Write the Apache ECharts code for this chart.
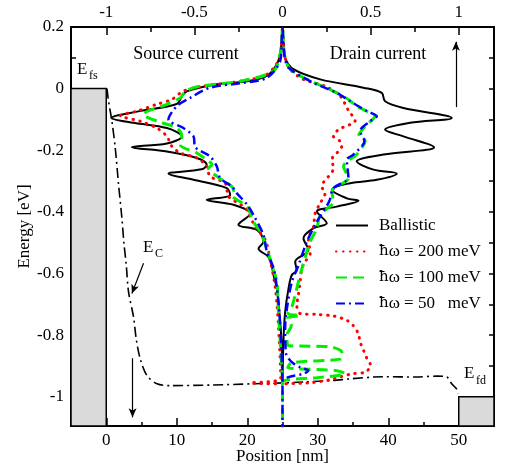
<!DOCTYPE html>
<html>
<head>
<meta charset="utf-8">
<script src="https://cdn.jsdelivr.net/npm/echarts@6/dist/echarts.min.js"></script>
<style>
  html, body { margin: 0; padding: 0; background: #fff; }
  #chart { width: 509px; height: 466px; }
</style>
</head>
<body>
<div id="chart"></div>
<script>
// axis ticks / labels
const positionLabels = [0, 10, 20, 30, 40, 50]
const positionMinor = [5, 15, 25, 35, 45]
const currentLabels = [-1, -0.5, 0, 0.5, 1]
const currentMinor = [-0.75, -0.25, 0.25, 0.75]
const energyLabels = [0.2, 0, -0.2, -0.4, -0.6, -0.8, -1]
const energyTicks = [0.1, 0, -0.1, -0.2, -0.3, -0.4, -0.5, -0.6, -0.7, -0.8, -0.9, -1]

// current density vs energy, [current, energy], top to bottom
const ballisticSource = [[0, 0.2], [-0.005, 0.15], [-0.015, 0.11], [-0.032, 0.079], [-0.089, 0.041], [-0.2, 0.024], [-0.37, 0.014], [-0.54, -0.008], [-0.57, -0.024], [-0.6, -0.05], [-0.81, -0.073], [-0.97, -0.095], [-0.845, -0.111], [-0.656, -0.128], [-0.571, -0.155], [-0.656, -0.178], [-0.854, -0.19], [-0.656, -0.204], [-0.486, -0.225], [-0.43, -0.247], [-0.46, -0.262], [-0.647, -0.276], [-0.505, -0.296], [-0.316, -0.323], [-0.297, -0.345], [-0.43, -0.361], [-0.278, -0.377], [-0.183, -0.405], [-0.25, -0.442], [-0.145, -0.459], [-0.108, -0.497], [-0.136, -0.519], [-0.08, -0.546], [-0.06, -0.578], [-0.051, -0.605], [-0.032, -0.649], [-0.013, -0.757], [-0.004, -0.844], [0, -0.95]]
const ballisticDrain = [[0, 0.2], [0.005, 0.15], [0.015, 0.1], [0.062, 0.063], [0.214, 0.03], [0.459, 0.003], [0.563, -0.014], [0.582, -0.041], [0.686, -0.063], [0.96, -0.095], [0.724, -0.111], [0.582, -0.133], [0.686, -0.155], [0.86, -0.19], [0.573, -0.214], [0.421, -0.236], [0.516, -0.263], [0.648, -0.276], [0.535, -0.296], [0.384, -0.307], [0.28, -0.328], [0.365, -0.356], [0.431, -0.364], [0.308, -0.383], [0.195, -0.399], [0.251, -0.437], [0.176, -0.453], [0.119, -0.486], [0.147, -0.524], [0.072, -0.562], [0.08, -0.59], [0.053, -0.605], [0.034, -0.649], [0.015, -0.725], [0.006, -0.81], [0, -0.95]]

const w200Source = [[0, 0.2], [-0.005, 0.15], [-0.015, 0.1], [-0.089, 0.046], [-0.24, 0.024], [-0.448, 0.008], [-0.562, -0.008], [-0.628, -0.035], [-0.713, -0.051], [-0.826, -0.073], [-0.92, -0.088], [-0.807, -0.106], [-0.713, -0.128], [-0.656, -0.155], [-0.628, -0.187], [-0.58, -0.209], [-0.486, -0.225], [-0.43, -0.252], [-0.411, -0.285], [-0.325, -0.307], [-0.306, -0.35], [-0.211, -0.388], [-0.155, -0.448], [-0.098, -0.491], [-0.07, -0.556], [-0.04, -0.65], [-0.02, -0.8], [-0.01, -0.94], [-0.18, -0.955], [0, -0.958]]
const w200Drain = [[0, 0.2], [0.005, 0.15], [0.015, 0.1], [0.043, 0.063], [0.119, 0.03], [0.242, 0.008], [0.327, -0.024], [0.374, -0.071], [0.412, -0.104], [0.318, -0.133], [0.289, -0.155], [0.327, -0.171], [0.336, -0.187], [0.28, -0.231], [0.289, -0.258], [0.223, -0.318], [0.242, -0.339], [0.214, -0.372], [0.185, -0.405], [0.176, -0.448], [0.147, -0.486], [0.157, -0.535], [0.128, -0.562], [0.11, -0.584], [0.1, -0.627], [0.09, -0.67], [0.081, -0.703], [0.1, -0.73], [0.2, -0.733], [0.29, -0.738], [0.365, -0.752], [0.4, -0.768], [0.43, -0.795], [0.44, -0.822], [0.46, -0.85], [0.48, -0.877], [0.5, -0.898], [0.47, -0.92], [0.4, -0.925], [0.33, -0.935], [0.27, -0.945], [0.15, -0.955], [0, -0.958]]

const w100Source = [[0, 0.2], [-0.005, 0.15], [-0.015, 0.11], [-0.05, 0.057], [-0.24, 0.024], [-0.467, 0.008], [-0.55, -0.008], [-0.58, -0.03], [-0.656, -0.051], [-0.79, -0.084], [-0.71, -0.106], [-0.6, -0.128], [-0.571, -0.155], [-0.58, -0.182], [-0.486, -0.209], [-0.43, -0.231], [-0.4, -0.247], [-0.42, -0.258], [-0.372, -0.285], [-0.287, -0.318], [-0.278, -0.334], [-0.287, -0.345], [-0.2, -0.383], [-0.165, -0.432], [-0.127, -0.464], [-0.089, -0.519], [-0.06, -0.573], [-0.032, -0.627], [-0.023, -0.725], [-0.01, -0.85], [0, -0.95]]
const w100Drain = [[0, 0.2], [0.005, 0.15], [0.015, 0.1], [0.043, 0.063], [0.138, 0.03], [0.27, -0.003], [0.374, -0.035], [0.421, -0.057], [0.478, -0.073], [0.525, -0.09], [0.478, -0.117], [0.431, -0.155], [0.469, -0.168], [0.421, -0.214], [0.365, -0.236], [0.346, -0.252], [0.374, -0.29], [0.28, -0.334], [0.289, -0.366], [0.214, -0.41], [0.195, -0.453], [0.157, -0.497], [0.11, -0.584], [0.09, -0.627], [0.072, -0.67], [0.053, -0.708], [0.03, -0.73], [0.1, -0.737], [0.03, -0.745], [0.05, -0.77], [0.025, -0.8], [0.03, -0.833], [0.27, -0.838], [0.33, -0.85], [0.34, -0.865], [0.33, -0.878], [0.05, -0.89], [0.03, -0.905], [0.3, -0.915], [0.356, -0.925], [0.2, -0.938], [0.03, -0.945], [0, -0.955], [0, -1.1]]

const w50Source = [[0, 0.2], [-0.005, 0.15], [-0.013, 0.09], [-0.089, 0.035], [-0.22, 0.019], [-0.41, 0.003], [-0.524, -0.03], [-0.6, -0.057], [-0.647, -0.1], [-0.562, -0.128], [-0.505, -0.155], [-0.495, -0.19], [-0.411, -0.22], [-0.373, -0.252], [-0.354, -0.29], [-0.287, -0.318], [-0.26, -0.339], [-0.2, -0.377], [-0.165, -0.41], [-0.108, -0.475], [-0.089, -0.529], [-0.05, -0.584], [-0.025, -0.68], [-0.01, -0.8], [0, -0.95]]
const w50Drain = [[0, 0.2], [0.005, 0.15], [0.013, 0.1], [0.034, 0.068], [0.157, 0.024], [0.308, -0.014], [0.384, -0.041], [0.478, -0.073], [0.535, -0.09], [0.497, -0.106], [0.44, -0.138], [0.465, -0.17], [0.402, -0.214], [0.365, -0.231], [0.374, -0.29], [0.289, -0.323], [0.265, -0.366], [0.195, -0.432], [0.138, -0.497], [0.091, -0.573], [0.053, -0.627], [0.025, -0.714], [0.015, -0.779], [0.02, -0.86], [0.053, -0.888], [0.1, -0.905], [0.147, -0.915], [0.12, -0.925], [0.03, -0.937], [0, -0.95], [0, -1.1]]

// conduction band edge, [position nm, energy]
const bandEdge = [[0.1, 0], [0.33, -0.041], [0.8, -0.106], [1.28, -0.193], [1.75, -0.312], [2.22, -0.42], [2.5, -0.5], [2.84, -0.573], [3.16, -0.66], [3.87, -0.741], [4.25, -0.812], [4.82, -0.877], [5.77, -0.931], [7.2, -0.958], [9.07, -0.964], [15, -0.962], [20.9, -0.958], [25, -0.955], [28, -0.952], [32.2, -0.947], [34.6, -0.942], [39.3, -0.935], [44, -0.936], [46.9, -0.933], [48.3, -0.936], [49, -0.958], [49.7, -0.975], [49.9, -0.99]]

// contacts and arrows
const sourceContact = [[-5, 0], [0, -1.095]]
const drainContact = [[50, -1], [55, -1.095]]
const arrowEc = [[5.29, -0.567], [3.64, -0.665]]
const arrowDown = [[3.73, -0.875], [3.73, -1.067]]
const arrowUp = [[49.6, -0.06], [49.6, 0.152]]

const serif = "'Liberation Serif', 'Times New Roman', serif"
const black = '#000'

function path(src, drn) {
  return src.slice().reverse().concat(drn)
}

function valueAxis(extra) {
  return Object.assign({
    type: 'value',
    splitLine: { show: false },
    axisLine: { onZero: false, lineStyle: { color: black, width: 2 } },
    axisTick: { inside: true, length: 8, lineStyle: { color: black, width: 1.5 } },
    axisLabel: { color: black, fontFamily: serif, fontSize: 17, margin: 6 }
  }, extra)
}

const chart = echarts.init(document.getElementById('chart'))

chart.setOption({
  animation: false,
  backgroundColor: '#fff',
  grid: { left: 71, right: 15, top: 27, bottom: 40, outerBoundsMode: 'none' },
  legend: {
    data: ['Ballistic', 'ħω = 200 meV', 'ħω = 100 meV', 'ħω = 50   meV'],
    orient: 'vertical',
    left: 335,
    top: 217,
    padding: 0,
    itemWidth: 32,
    itemHeight: 14,
    itemGap: 9,
    itemStyle: { opacity: 0 },
    formatter: name => name.replace('ħ', '{h|ħ}'),
    textStyle: {
      color: black, fontFamily: serif, fontSize: 17, padding: [0, 0, 0, 6],
      rich: { h: { fontFamily: "'DejaVu Serif'", fontSize: 15, color: black } }
    }
  },
  xAxis: [
    valueAxis({
      min: -5, max: 55, position: 'bottom',
      name: 'Position [nm]', nameLocation: 'middle', nameGap: 22, nameMoveOverlap: false,
      nameTextStyle: { color: black, fontFamily: serif, fontSize: 17 },
      axisTick: { inside: true, length: 8, customValues: positionLabels, lineStyle: { color: black, width: 1.5 } },
      axisLabel: { customValues: positionLabels, color: black, fontFamily: serif, fontSize: 17, margin: 6 }
    }),
    valueAxis({
      min: -1.2, max: 1.2, position: 'top',
      axisTick: { inside: true, length: 8, customValues: currentLabels, lineStyle: { color: black, width: 1.5 } },
      axisLabel: { customValues: currentLabels, color: black, fontFamily: serif, fontSize: 17, margin: 6 }
    }),
    valueAxis({
      min: -5, max: 55, position: 'bottom',
      axisLine: { show: false, onZero: false },
      axisTick: { inside: true, length: 4, customValues: positionMinor, lineStyle: { color: black, width: 1.5 } },
      axisLabel: { show: false }
    }),
    valueAxis({
      min: -1.2, max: 1.2, position: 'top',
      axisLine: { show: false, onZero: false },
      axisTick: { inside: true, length: 5, customValues: currentMinor, lineStyle: { color: black, width: 1.5 } },
      axisLabel: { show: false }
    })
  ],
  yAxis: [
    valueAxis({
      min: -1.095, max: 0.2, position: 'left',
      name: 'Energy [eV]', nameLocation: 'middle', nameGap: 38, nameRotate: 90, nameMoveOverlap: false,
      nameTextStyle: { color: black, fontFamily: serif, fontSize: 17 },
      axisTick: { inside: true, length: 5, customValues: energyTicks, lineStyle: { color: black, width: 1.5 } },
      axisLabel: { customValues: energyLabels, color: black, fontFamily: serif, fontSize: 17, margin: 7 }
    }),
    valueAxis({
      min: -1.095, max: 0.2, position: 'right',
      axisTick: { inside: true, length: 5, customValues: energyTicks, lineStyle: { color: black, width: 1.5 } },
      axisLabel: { show: false }
    })
  ],
  series: [
    {
      name: 'E_C',
      type: 'line',
      xAxisIndex: 0,
      yAxisIndex: 0,
      symbol: 'none',
      smooth: 0.3,
      data: bandEdge,
      lineStyle: { color: black, width: 1.6, type: [10, 4, 2, 4] },
      markArea: {
        silent: true,
        itemStyle: { color: '#dadada', borderColor: black, borderWidth: 1.5 },
        data: [
          [{ coord: sourceContact[0] }, { coord: sourceContact[1] }],
          [{ coord: drainContact[0] }, { coord: drainContact[1] }]
        ]
      },
      markLine: {
        silent: true,
        symbol: ['none', 'arrow'],
        symbolSize: [6, 9],
        label: { show: false },
        lineStyle: { color: black, width: 1.2, type: 'solid' },
        data: [
          [{ coord: arrowEc[0] }, { coord: arrowEc[1] }],
          [{ coord: arrowDown[0] }, { coord: arrowDown[1] }],
          [{ coord: arrowUp[0] }, { coord: arrowUp[1] }]
        ]
      }
    },
    {
      name: 'Ballistic',
      type: 'line',
      xAxisIndex: 1,
      yAxisIndex: 0,
      symbol: 'none',
      smooth: 0.35,
      data: path(ballisticSource, ballisticDrain),
      lineStyle: { color: black, width: 2 },
      itemStyle: { color: black }
    },
    {
      name: 'ħω = 200 meV',
      type: 'line',
      xAxisIndex: 1,
      yAxisIndex: 0,
      symbol: 'none',
      smooth: 0.3,
      data: path(w200Source, w200Drain),
      lineStyle: { color: '#ff0000', width: 3, type: [0.5, 6.5], cap: 'round' },
      itemStyle: { color: '#ff0000' }
    },
    {
      name: 'ħω = 100 meV',
      type: 'line',
      xAxisIndex: 1,
      yAxisIndex: 0,
      symbol: 'none',
      smooth: 0.3,
      data: path(w100Source, w100Drain),
      lineStyle: { color: '#00ee00', width: 3, type: [11, 6] },
      itemStyle: { color: '#00ee00' }
    },
    {
      name: 'ħω = 50   meV',
      type: 'line',
      xAxisIndex: 1,
      yAxisIndex: 0,
      symbol: 'none',
      smooth: 0.3,
      data: path(w50Source, w50Drain),
      lineStyle: { color: '#0000ff', width: 2.5, type: [9, 4, 2, 4] },
      itemStyle: { color: '#0000ff' }
    }
  ],
  graphic: [
    { type: 'text', x: 186, y: 54, style: { text: 'Source current', font: '18px ' + serif, fill: black, align: 'center', verticalAlign: 'middle' } },
    { type: 'text', x: 378, y: 54, style: { text: 'Drain current', font: '18px ' + serif, fill: black, align: 'center', verticalAlign: 'middle' } },
    { type: 'text', x: 77, y: 61, style: { text: 'E', font: '17px ' + serif, fill: black } },
    { type: 'text', x: 89, y: 70, style: { text: 'fs', font: '12px ' + serif, fill: black } },
    { type: 'text', x: 143, y: 239, style: { text: 'E', font: '17px ' + serif, fill: black } },
    { type: 'text', x: 155, y: 248, style: { text: 'C', font: '12px ' + serif, fill: black } },
    { type: 'text', x: 464, y: 365, style: { text: 'E', font: '17px ' + serif, fill: black } },
    { type: 'text', x: 476, y: 375, style: { text: 'fd', font: '12px ' + serif, fill: black } }
  ]
})
</script>
</body>
</html>
